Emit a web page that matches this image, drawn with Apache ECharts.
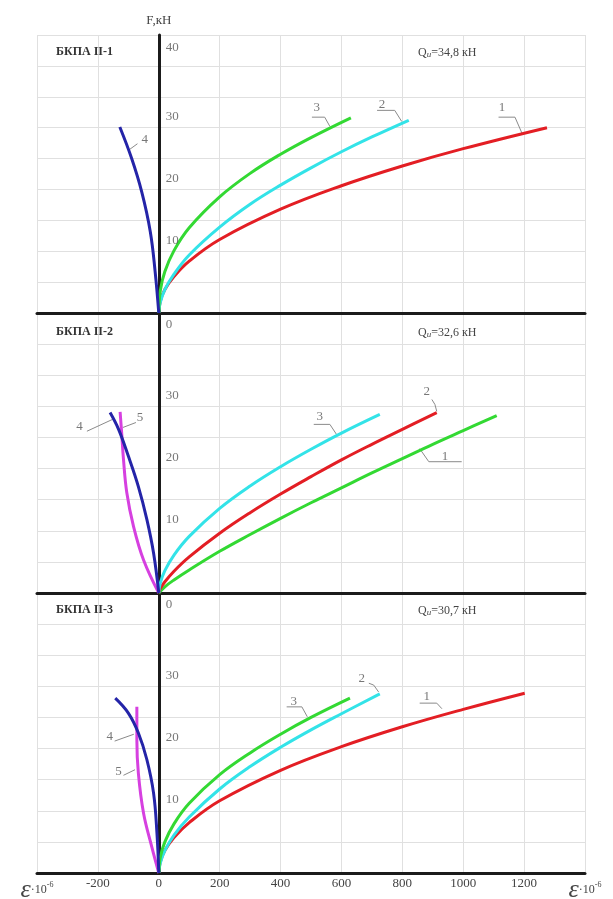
<!DOCTYPE html>
<html>
<head>
<meta charset="utf-8">
<style>
html,body{margin:0;padding:0;background:#fff;}
#chart{width:613px;height:899px;}
</style>
<script src="https://cdn.jsdelivr.net/npm/echarts@6/dist/echarts.min.js"></script>
</head>
<body>
<div id="chart"></div>
<script>
// ---- data (ε·10^-6, F kN) ----
const topRed   = [[0,0],[5,1.9],[20,3.8],[50,5.9],[100,8.4],[200,11.9],[400,16.8],[600,20.6],[800,23.8],[1000,26.6],[1275,30]];
const topCyan  = [[0,0],[5,1.7],[20,3.8],[50,6.3],[100,9.4],[200,13.9],[300,17.6],[400,20.7],[500,23.5],[600,26.1],[700,28.5],[821,31.2]];
const topGreen = [[0,0],[5,3.6],[20,6.7],[50,10.1],[100,13.8],[200,18.8],[300,22.6],[400,25.7],[500,28.4],[631,31.6]];
const topBlue  = [[0,0],[-12,6.7],[-28,13.2],[-56,19.6],[-89,25],[-128,30.1]];

const midCyan    = [[0,0],[5,1.6],[20,3.6],[50,6.1],[100,9.1],[200,13.6],[300,17.2],[400,20.3],[500,23.1],[600,25.7],[726,28.7]];
const midRed     = [[0,0],[5,0.7],[20,1.8],[50,3.5],[100,5.8],[200,9.6],[300,12.9],[400,15.9],[500,18.7],[600,21.4],[700,23.9],[800,26.3],[913,29]];
const midGreen   = [[0,0],[20,1],[50,2.1],[100,3.7],[200,6.7],[300,9.4],[400,12],[500,14.5],[600,16.9],[700,19.3],[800,21.6],[900,23.9],[1000,26.1],[1110,28.5]];
const midBlue    = [[0,0],[-17,6.4],[-39,11.8],[-67,17.1],[-100,22],[-132,26.3],[-160,29]];
const midMagenta = [[0,0],[-50,5.3],[-83,10.7],[-105,16.1],[-116,21.5],[-122,25.8],[-127,29.1]];

const botGreen   = [[0,0],[5,2.5],[20,5],[50,7.9],[100,11.2],[200,15.8],[300,19.3],[400,22.3],[500,25],[628,28.1]];
const botCyan    = [[0,0],[5,1.6],[20,3.6],[50,6.1],[100,9],[200,13.5],[300,17.1],[400,20.2],[500,23],[600,25.6],[726,28.8]];
const botRed     = [[0,0],[5,1.8],[20,3.6],[50,5.7],[100,8.1],[200,11.6],[400,16.5],[600,20.3],[800,23.5],[1000,26.3],[1202,28.9]];
const botBlue    = [[0,0],[-6,6.4],[-17,12.8],[-39,18.2],[-67,22.5],[-100,25.7],[-143,28.1]];
const botMagenta = [[0,0],[-23,4.2],[-50,9.6],[-67,16],[-72,21.4],[-72,26.7]];

// curve number labels [ε, F, text]
const topLabels = [[1127,33.2,'1'],[733,33.7,'2'],[519,33.2,'3'],[-46,28,'4']];
const midLabels = [[529,28.4,'3'],[880,32.4,'2'],[940,21.9,'1'],[-260,26.8,'4'],[-62,28.2,'5']];
const botLabels = [[443,27.5,'3'],[667,31.3,'2'],[880,28.3,'1'],[-161,21.9,'4'],[-132,16.3,'5']];

// leader lines
const topLeaders = [[[1116,31.7],[1170,31.7],[1193,29.1]],[[717,32.8],[775,32.8],[798,31.0]],[[503,31.7],[545,31.7],[562,30.2]],[[-70,27.4],[-98,26.4]]];
const midLeaders = [[[509,27.1],[562,27.1],[585,25.4]],[[897,31.1],[907,30.3],[913,29.2]],[[857,23.2],[887,21.1],[995,21.1]],[[-236,26.0],[-152,27.9]],[[-75,27.4],[-118,26.6]]];
const botLeaders = [[[420,26.7],[470,26.7],[488,25.1]],[[690,30.5],[706,30.2],[722,29.1]],[[857,27.3],[913,27.3],[930,26.4]],[[-145,21.2],[-82,22.3]],[[-116,15.7],[-78,16.6]]];

// tick labels
const xTickLabels = [-200,0,200,400,600,800,1000,1200];
const xEdgeTicks = [-400,1400];
const yLabelsTop = [0,10,20,30,40];
const yLabelsMid = [0,10,20,30];
const yLabelsBot = [10,20,30];

const panelTitles = ['БКПА II-1','БКПА II-2','БКПА II-3'];
const panelQ = ['34,8','32,6','30,7'];

// ---- styling ----
const C = {red:'#e31e24', cyan:'#33e3e8', green:'#33d933', blue:'#2424a8', magenta:'#d640e0'};
const serif = 'Liberation Serif';
const grids = [
  {left:37, right:28, top:35, height:278, outerBoundsMode:'none', containLabel:false},
  {left:37, right:28, top:313, height:280, outerBoundsMode:'none', containLabel:false},
  {left:37, right:28, top:593, height:280, outerBoundsMode:'none', containLabel:false}
];
const panels = [
  {curves:[[topRed,C.red],[topCyan,C.cyan],[topGreen,C.green],[topBlue,C.blue]], labels:topLabels, leaders:topLeaders, ylab:yLabelsTop},
  {curves:[[midGreen,C.green],[midRed,C.red],[midCyan,C.cyan],[midMagenta,C.magenta],[midBlue,C.blue]], labels:midLabels, leaders:midLeaders, ylab:yLabelsMid},
  {curves:[[botRed,C.red],[botCyan,C.cyan],[botGreen,C.green],[botMagenta,C.magenta],[botBlue,C.blue]], labels:botLabels, leaders:botLeaders, ylab:yLabelsBot}
];

const xAxes = [], yAxes = [], series = [];
panels.forEach((p, i) => {
  xAxes.push({
    gridIndex:i, type:'value', min:-400, max:1400, interval:200,
    axisLine:{show:true, onZero:true, lineStyle:{color:'#1b1b1b', width:3}},
    axisTick:{show:false},
    splitLine:{show:true, lineStyle:{color:'#e0e0e0', width:1}},
    axisLabel:{
      show: i === 2, margin:4, fontFamily:serif, fontSize:13, color:'#444',
      formatter: v => xEdgeTicks.includes(v) ? '{e|ε}{s|·10}{p|-6}' : (xTickLabels.includes(v) ? String(v) : ''),
      rich:{
        e:{fontFamily:serif, fontStyle:'italic', fontSize:26, color:'#444'},
        s:{fontFamily:serif, fontSize:12, color:'#444'},
        p:{fontFamily:serif, fontSize:8, color:'#444', padding:[0,0,10,0]}
      }
    }
  });
  yAxes.push({
    gridIndex:i, type:'value', min:0, max:45, interval:5,
    name: i === 0 ? 'F,кН' : '', nameGap:8,
    nameTextStyle:{fontFamily:serif, fontSize:13, color:'#444'},
    axisLine:{show:true, onZero:true, lineStyle:{color:'#1b1b1b', width:3}},
    axisTick:{show:false},
    axisLabel:{show:false},
    splitLine:{show:true, lineStyle:{color:'#e0e0e0', width:1}}
  });
  p.curves.forEach(([d, col]) => {
    series.push({type:'line', xAxisIndex:i, yAxisIndex:i, data:d, smooth:0.4, showSymbol:false,
      lineStyle:{color:col, width:3}, z:3, silent:true});
  });
  p.leaders.forEach(d => {
    series.push({type:'line', xAxisIndex:i, yAxisIndex:i, data:d, smooth:false, showSymbol:false,
      lineStyle:{color:'#8a8a8a', width:1}, z:2, silent:true});
  });
  series.push({type:'scatter', xAxisIndex:i, yAxisIndex:i, symbolSize:0, silent:true, z:4,
    data:p.labels.map(l => ({value:[l[0], l[1]], name:l[2]})),
    label:{show:true, position:'inside', formatter:'{b}', fontFamily:serif, fontSize:13, color:'#555'}});
  // y tick labels drawn at ε = 0, to the right of the vertical axis
  series.push({type:'scatter', xAxisIndex:i, yAxisIndex:i, symbolSize:0, silent:true, z:4,
    data:p.ylab.map(v => ({value:[0, v], name:String(v),
      label:{offset:[0, v === 0 ? 12 : (v === 40 ? -18 : -11)]}})),
    label:{show:true, position:'right', distance:7, formatter:'{b}', fontFamily:serif, fontSize:13, color:'#555'}});
});

const titleTops = [46, 326, 604];
const titles = [];
panelTitles.forEach((t, i) => {
  titles.push({text:t, left:56, top:titleTops[i], padding:0,
    textStyle:{fontFamily:serif, fontWeight:'bold', fontSize:12, color:'#333'}});
  titles.push({text:'Q{sub|u}=' + panelQ[i] + ' кН', left:418, top:titleTops[i], padding:0,
    textStyle:{fontFamily:serif, fontWeight:'normal', fontSize:12, color:'#444',
      rich:{sub:{fontFamily:serif, fontStyle:'italic', fontSize:9, color:'#444', padding:[4,0,0,0]}}}});
});

const chart = echarts.init(document.getElementById('chart'), null, {renderer:'canvas'});
chart.setOption({
  animation:false,
  backgroundColor:'#ffffff',
  title:titles,
  grid:grids,
  xAxis:xAxes,
  yAxis:yAxes,
  series:series
});
</script>
</body>
</html>
